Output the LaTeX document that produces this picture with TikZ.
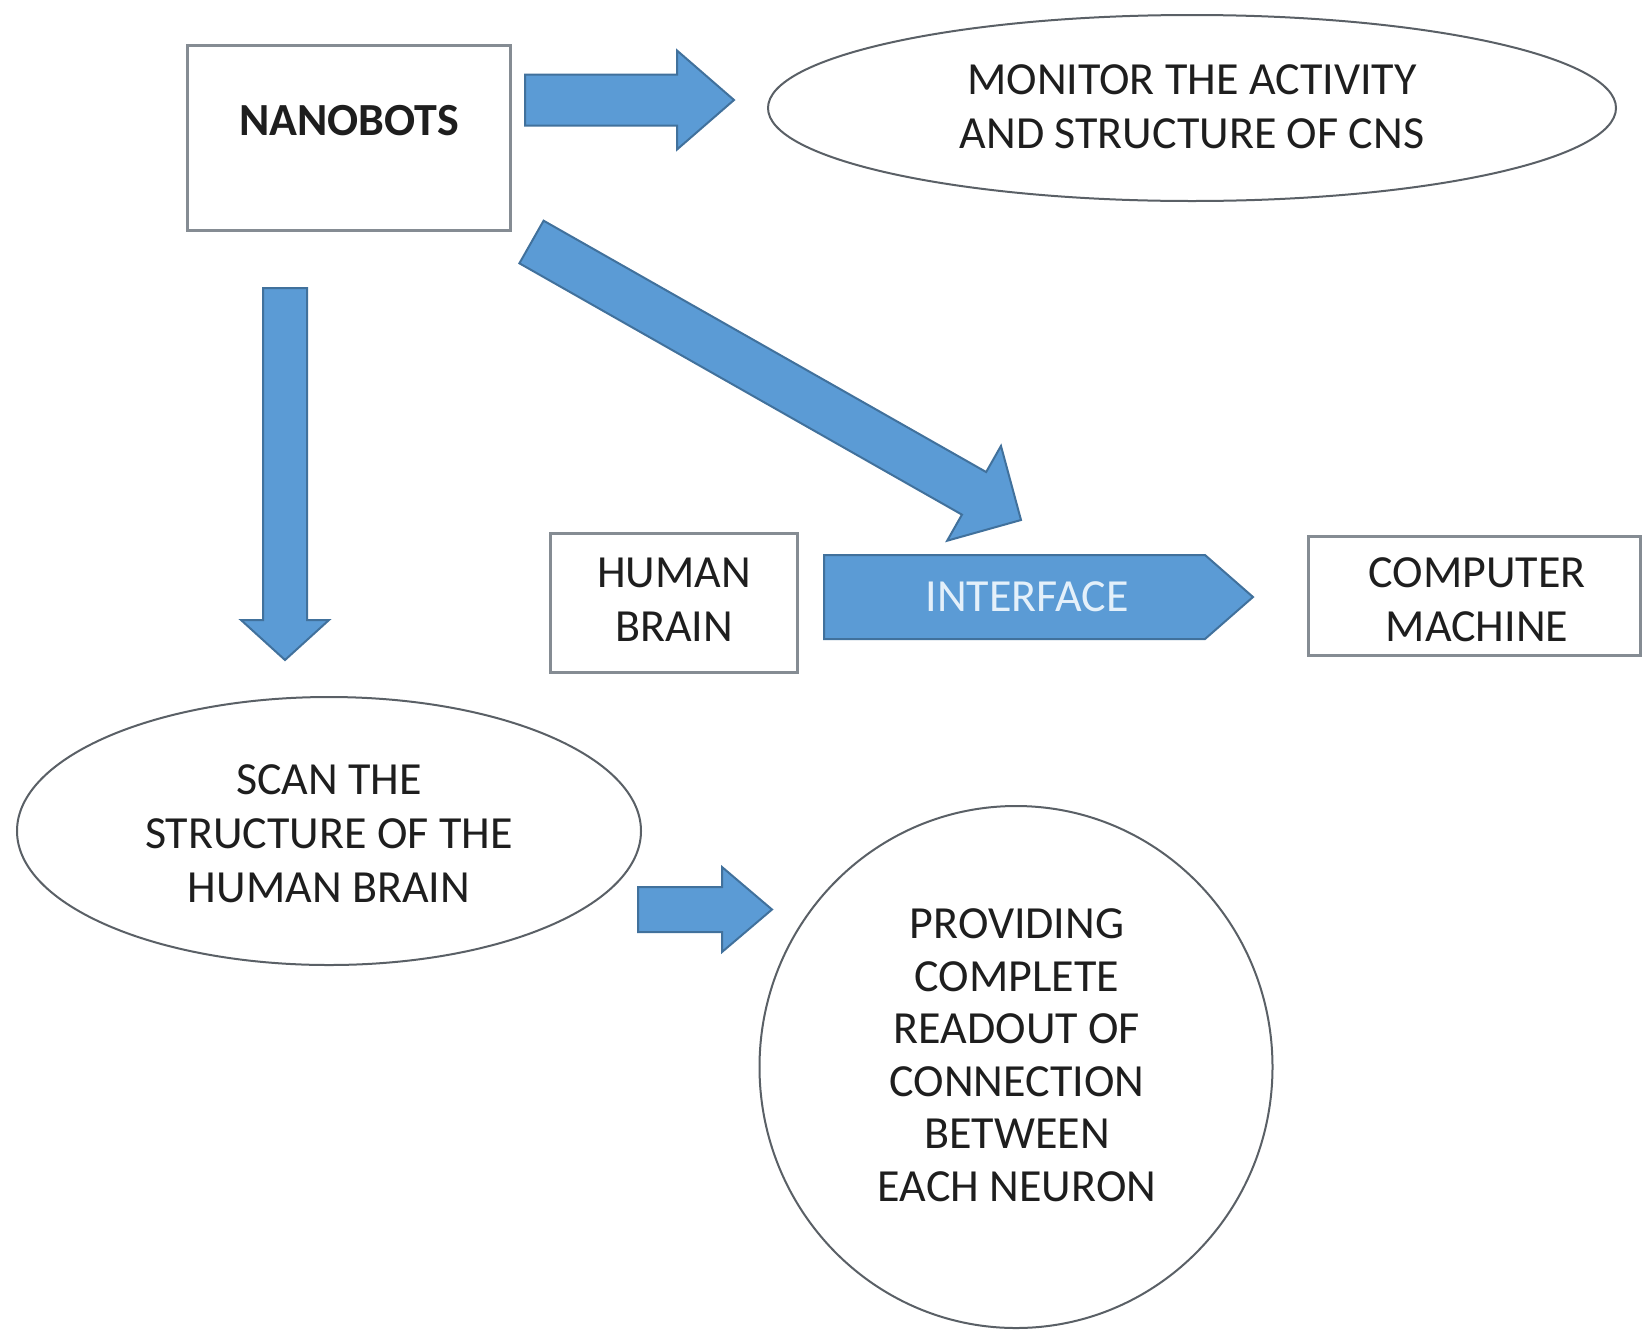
\documentclass[tikz,border=0pt]{standalone}
\usepackage{fontspec}
\setmainfont{Carlito}
\usetikzlibrary{calc,shapes.geometric}
\definecolor{arrfill}{HTML}{5B9BD5}
\definecolor{arrline}{HTML}{41719C}
\definecolor{boxline}{HTML}{858C93}
\definecolor{ellline}{HTML}{5A6066}
\definecolor{txtcol}{HTML}{1E1E1E}
\definecolor{ifacetxt}{HTML}{E4F0FA}
\tikzset{
  boxnode/.style={draw=boxline, line width=3pt, fill=white, inner sep=0pt},
  ellnode/.style={ellipse, draw=ellline, line width=2pt, fill=white, inner sep=0pt},
  txtnode/.style={inner sep=0pt, align=center, text=txtcol, font=\fontsize{46}{54}\selectfont},
  arrowfill/.style={fill=arrfill, draw=arrline, line width=2pt, line join=miter}
}
\newcommand\fatarrow[5]{%
  \coordinate (hb) at ($(#2)!#5!(#1)$);
  \path[arrowfill] ($(#1)!#3!90:(#2)$) -- ($(hb)!#3!90:(#2)$) -- ($(hb)!#4!90:(#2)$) -- (#2)
    -- ($(hb)!#4!-90:(#2)$) -- ($(hb)!#3!-90:(#2)$) -- ($(#1)!#3!-90:(#2)$) -- cycle;}
\begin{document}
\begin{tikzpicture}[x=1pt,y=-1pt]
\fill[white] (0,0) rectangle (1643,1331);
\useasboundingbox (0,0) rectangle (1643,1331);

% boxes and ellipses
\node[boxnode, minimum width=323pt, minimum height=185pt] (nano) at (348.5,137.5) {};
\node[txtnode, font=\fontsize{46}{54}\selectfont\bfseries] (nanotxt) at (349,121) {NANOBOTS};

\node[ellnode, minimum width=848pt, minimum height=186pt] (mon) at (1192,108) {};
\node[txtnode] (montxt) at (1192,107) {MONITOR THE ACTIVITY\\AND STRUCTURE OF CNS};

\node[boxnode, minimum width=247pt, minimum height=139pt] (human) at (673.5,602.5) {};
\node[txtnode] (humantxt) at (674,600) {HUMAN\\BRAIN};

\node[boxnode, minimum width=332pt, minimum height=119pt] (comp) at (1474,595.5) {};
\node[txtnode] (comptxt) at (1477,600) {COMPUTER\\MACHINE};

\node[ellnode, minimum width=624pt, minimum height=268pt] (scan) at (329,831) {};
\node[txtnode] (scantxt) at (329,834) {SCAN THE\\STRUCTURE OF THE\\HUMAN BRAIN};

\node[ellnode, minimum width=513pt, minimum height=522pt] (prov) at (1016,1067) {};
\node[txtnode, font=\fontsize{46}{52.5}\selectfont] (provtxt) at (1017,1055) {PROVIDING\\COMPLETE\\READOUT OF\\CONNECTION\\BETWEEN\\EACH NEURON};

% block arrows
\coordinate (a1s) at (525,100);   \coordinate (a1e) at (734,100);
\fatarrow{a1s}{a1e}{25.5pt}{49.5pt}{57pt}
\coordinate (a2s) at (285,288);   \coordinate (a2e) at (285,660);
\fatarrow{a2s}{a2e}{22pt}{44pt}{40pt}
\coordinate (a3s) at (531.5,242); \coordinate (a3e) at (1021,520);
\fatarrow{a3s}{a3e}{24.5pt}{54.5pt}{54pt}
\coordinate (a4s) at (824,597);   \coordinate (a4e) at (1253,597);
\fatarrow{a4s}{a4e}{42pt}{42pt}{48pt}
\node[txtnode, text=ifacetxt] (ifacetxt) at (1027,597) {INTERFACE};
\coordinate (a5s) at (638,909.5); \coordinate (a5e) at (772,909.5);
\fatarrow{a5s}{a5e}{22.5pt}{42.5pt}{50pt}
\end{tikzpicture}
\end{document}
